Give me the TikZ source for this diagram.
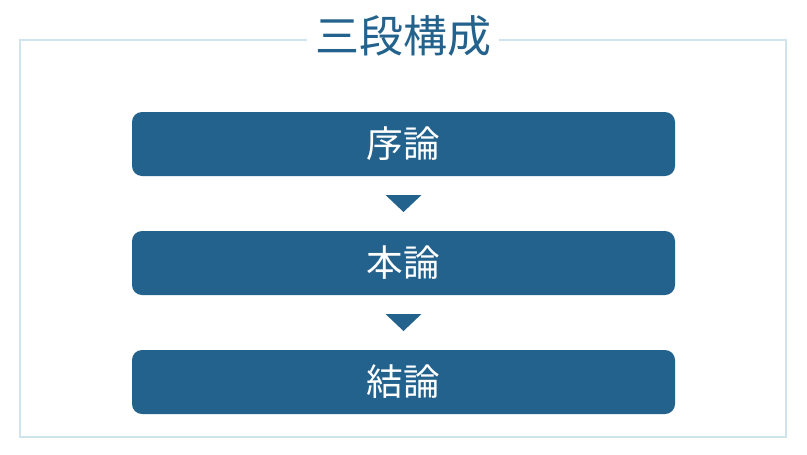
\documentclass[tikz,border=0pt]{standalone}
\usepackage{fontspec}
\newfontfamily\jpfont{Noto Sans CJK JP}
\usetikzlibrary{positioning,calc}
\definecolor{boxblue}{HTML}{23628D}
\definecolor{framecol}{HTML}{D0E4EE}
\tikzset{
  stage/.style={fill=boxblue, rounded corners=7.5pt, minimum width=543*0.75pt, minimum height=64*0.75pt, text=white, font=\jpfont\fontsize{27.5}{30}\selectfont, inner sep=0pt},
  marker/.style={fill=boxblue}
}
\begin{document}
\begin{tikzpicture}[x=0.75pt, y=-0.75pt]
            \useasboundingbox (0,0) rectangle (807,454);
            \draw[framecol, line width=1pt] (20,40) rectangle (786,437);
            \node[fill=white, text=boxblue, inner xsep=6pt, inner ysep=0pt, font=\jpfont\fontsize{33}{36}\selectfont] (title) at (403,36) {三段構成};
            \node[stage] (intro) at (403.5,144) {序論};
            \node[stage] (body) at (403.5,263) {本論};
            \node[stage] (concl) at (403.5,382) {結論};
            % triangles between the stages
            \coordinate (m1) at ($(intro.south)!0.5!(body.north)$);
            \coordinate (m2) at ($(body.south)!0.5!(concl.north)$);
            \fill[marker] ($(m1)+(-18,-8.5)$) -- ($(m1)+(18,-8.5)$) -- ($(m1)+(0,8.5)$) -- cycle;
            \fill[marker] ($(m2)+(-18,-8.5)$) -- ($(m2)+(18,-8.5)$) -- ($(m2)+(0,8.5)$) -- cycle;
\end{tikzpicture}
\end{document}
